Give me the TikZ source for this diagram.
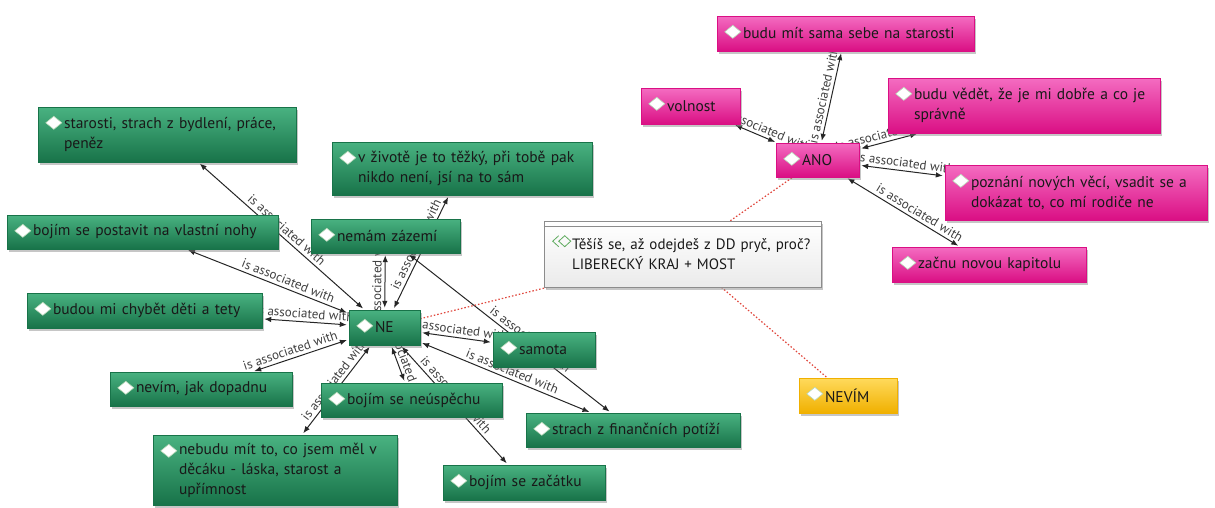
\documentclass[tikz,border=0pt]{standalone}
\usepackage{fontspec}
\setmainfont{PT Sans}
\usepackage{tikz}
\usetikzlibrary{arrows.meta,shadows,backgrounds}

\definecolor{neTop}{HTML}{49B281}
\definecolor{neBot}{HTML}{187349}
\definecolor{anoTop}{HTML}{F46CC1}
\definecolor{anoBot}{HTML}{DA0F84}
\definecolor{nvTop}{HTML}{FFDA5C}
\definecolor{nvBot}{HTML}{F0B000}
\definecolor{dmEdge}{HTML}{B9D9B9}
\definecolor{qEdge}{HTML}{8C8C8C}
\definecolor{qIcon}{HTML}{5DAA5D}
\definecolor{dotRed}{HTML}{E0483E}

\tikzset{
  idea/.style={rectangle, inner xsep=0pt, inner ysep=2pt, align=left,
    font=\fontsize{15.5}{20}\selectfont, text=black!90, line width=0.4pt,
    execute at begin node={\leftskip=26pt\relax},
    drop shadow={shadow xshift=2pt, shadow yshift=-2.5pt, opacity=0.45}},
  neBox/.style={idea, top color=neTop, bottom color=neBot, draw=neBot},
  anoBox/.style={idea, top color=anoTop, bottom color=anoBot, draw=anoBot},
  nvBox/.style={idea, top color=nvTop, bottom color=nvBot, draw=nvBot},
  qBox/.style={rectangle, inner xsep=0pt, inner ysep=2pt, align=left,
    font=\fontsize{15}{20}\selectfont, text=black!90,
    top color=white, bottom color=black!8, draw=qEdge, line width=0.6pt,
    execute at begin node={\leftskip=28pt\relax},
    drop shadow={shadow xshift=2pt, shadow yshift=-2.5pt, opacity=0.45}},
  dmond/.style={fill=white, draw=dmEdge, line width=0.6pt},
  assoc/.style={<->, >={Latex[length=7pt,width=5.5pt]}, line width=1pt,
    draw=black!85, shorten <=2pt, shorten >=2pt},
  assocLbl/.style={sloped, above, inner sep=3pt,
    font=\fontsize{13}{14}\selectfont, text=black!75},
  dotLink/.style={dotRed, line width=1.2pt, dash pattern=on 1.5pt off 2pt}
}

\begin{document}
\begin{tikzpicture}[x=1pt, y=-1pt]
\useasboundingbox (0,0) rectangle (1215,507);

%% -- NE cluster ---------------------------------------------------------------
\node[neBox, text width=258pt, minimum height=55pt] (st) at (167,134.5)
  {starosti, strach z bydlení, práce,\\peněz};
\node[neBox, text width=271pt, minimum height=34pt] (po) at (142.5,232)
  {bojím se postavit na vlastní nohy};
\node[neBox, text width=260pt, minimum height=53pt] (zi) at (462,168.5)
  {v životě je to těžký, při tobě pak\\nikdo není, jsí na to sám};
\node[neBox, text width=149pt, minimum height=34pt] (za) at (385.5,236)
  {nemám zázemí};
\node[neBox, text width=71pt, minimum height=35pt] (ne) at (384.5,327.5)
  {NE};
\node[neBox, text width=235pt, minimum height=35pt] (ch) at (144.5,310.5)
  {budou mi chybět děti a tety};
\node[neBox, text width=182pt, minimum height=34pt] (dp) at (201,389)
  {nevím, jak dopadnu};
\node[neBox, text width=244pt, minimum height=70pt] (nb) at (275,470)
  {nebudu mít to, co jsem měl v\\děcáku - láska, starost a\\upřímnost};
\node[neBox, text width=181pt, minimum height=34pt] (nu) at (411.5,400)
  {bojím se neúspěchu};
\node[neBox, text width=102pt, minimum height=35pt] (sa) at (544,349.5)
  {samota};
\node[neBox, text width=214pt, minimum height=34pt] (fi) at (633,430)
  {strach z finančních potíží};
\node[neBox, text width=162pt, minimum height=35pt] (zc) at (524,482.5)
  {bojím se začátku};

%% -- question -----------------------------------------------------------------
\node[qBox, text width=277pt, minimum height=66pt] (q) at (682.5,254)
  {Těšíš se, až odejdeš z DD pryč, proč?\\LIBERECKÝ KRAJ + MOST};
\draw[qEdge] ([yshift=-5pt]q.north west) -- ([yshift=-5pt]q.north east);
\draw[qIcon, line width=0.8pt]
  ([shift={(15pt,-15pt)}]q.north west) -- ([shift={(9pt,-20.5pt)}]q.north west)
  -- ([shift={(15pt,-26pt)}]q.north west);
\draw[qIcon, line width=0.8pt]
  ([shift={(21pt,-15pt)}]q.north west) -- ([shift={(27pt,-20.5pt)}]q.north west)
  -- ([shift={(21pt,-26pt)}]q.north west) -- ([shift={(15pt,-20.5pt)}]q.north west)
  -- cycle;

%% -- ANO cluster --------------------------------------------------------------
\node[anoBox, text width=257pt, minimum height=35pt] (sm) at (845.5,33.5)
  {budu mít sama sebe na starosti};
\node[anoBox, text width=99pt, minimum height=36pt] (vo) at (690.5,106)
  {volnost};
\node[anoBox, text width=272pt, minimum height=55pt] (ve) at (1024,105.5)
  {budu vědět, že je mi dobře a co je\\správně};
\node[anoBox, text width=83pt, minimum height=34pt] (ano) at (817.5,160)
  {ANO};
\node[anoBox, text width=262pt, minimum height=55pt] (pz) at (1076,192.5)
  {poznání nových věcí, vsadit se a\\dokázat to, co mí rodiče ne};
\node[anoBox, text width=194pt, minimum height=35pt] (ka) at (989,264.5)
  {začnu novou kapitolu};

%% -- NEVIM --------------------------------------------------------------------
\node[nvBox, text width=98pt, minimum height=35pt] (nv) at (848,395.5)
  {NEVÍM};

%% -- diamond marks ------------------------------------------------------------
\foreach \n in {st,po,zi,za,ne,ch,dp,nb,nu,sa,fi,zc,sm,vo,ve,ano,pz,ka,nv}{
  \draw[dmond] ([shift={(16pt,-9.5pt)}]\n.north west)
    -- ([shift={(24pt,-16pt)}]\n.north west)
    -- ([shift={(16pt,-22.5pt)}]\n.north west)
    -- ([shift={(8pt,-16pt)}]\n.north west) -- cycle;
}

%% -- links (behind the boxes) -------------------------------------------------
\begin{scope}[on background layer]
\foreach \tgt/\p in {st/0.5, po/0.39, ch/0.52, dp/0.58, nb/0.44, nu/0.5,
                     zc/0.46, sa/0.52, fi/0.52, za/0.5, zi/0.54}{
  \draw[assoc] (ne) -- node[assocLbl, pos=\p] {is associated with} (\tgt);
}
\draw[assoc] (za) -- node[assocLbl, pos=0.58] {is associated with} (fi);
\foreach \tgt/\p in {sm/0.5, vo/0.35, ve/0.44, pz/0.53, ka/0.61}{
  \draw[assoc] (ano) -- node[assocLbl, pos=\p] {is associated with} (\tgt);
}
\draw[dotLink] (ne) -- (q);
\draw[dotLink] (q) -- (ano);
\draw[dotLink] (q) -- (nv);
\end{scope}

\end{tikzpicture}
\end{document}
